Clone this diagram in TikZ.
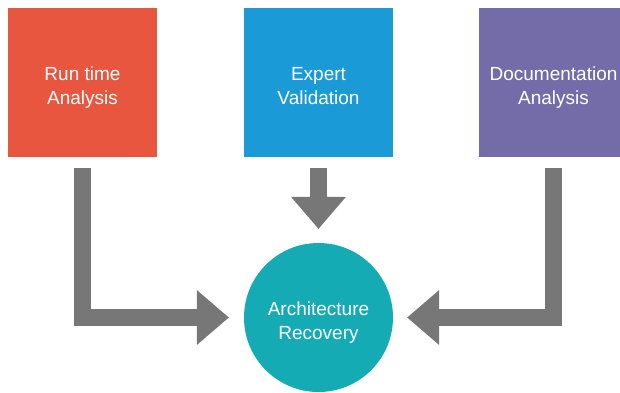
\documentclass[tikz,border=0pt]{standalone}
\usepackage{fontspec}
\setmainfont{Liberation Sans}
\usetikzlibrary{arrows.meta}

\definecolor{runred}{HTML}{E85640}
\definecolor{expertblue}{HTML}{1A9AD6}
\definecolor{docpurple}{HTML}{746CA8}
\definecolor{archteal}{HTML}{14ABB5}
\definecolor{flowgray}{HTML}{777777}

\begin{document}
\begin{tikzpicture}[x=1pt, y=-1pt,
    box/.style = {minimum width=149pt, minimum height=149pt, inner sep=0pt,
                  text=white, align=center, font=\fontsize{19}{24}\selectfont,
                  text height=48pt, text depth=4pt},
    flow/.style = {line width=17.5pt, draw=flowgray, shorten <=11pt,
                   -{Triangle[width=55pt, length=32pt, line width=0pt]}}]
                % Canvas
                \path[use as bounding box, fill=white] (0,0) rectangle (620,392);
                \clip (0,0) rectangle (620,392);

                % Sources
                \node[box, fill=runred] (run) at (82.5,82.5) {Run time\\Analysis};
                \node[box, fill=expertblue] (expert) at (318.5,82.5) {Expert\\Validation};
                \node[box, fill=docpurple] (doc) at (553.5,82.5) {Documentation\\Analysis};

                % Target
                \node[box, circle, fill=archteal] (arch) at (318.5,317.5) {Architecture\\Recovery};

                % Flows into the target
                \draw[flow, shorten >=15pt] (run.south) |- (arch.west);
                \draw[flow, shorten >=14pt] (expert.south) -- (arch.north);
                \draw[flow, shorten >=14pt] (doc.south) |- (arch.east);
            \end{tikzpicture}
\end{document}
